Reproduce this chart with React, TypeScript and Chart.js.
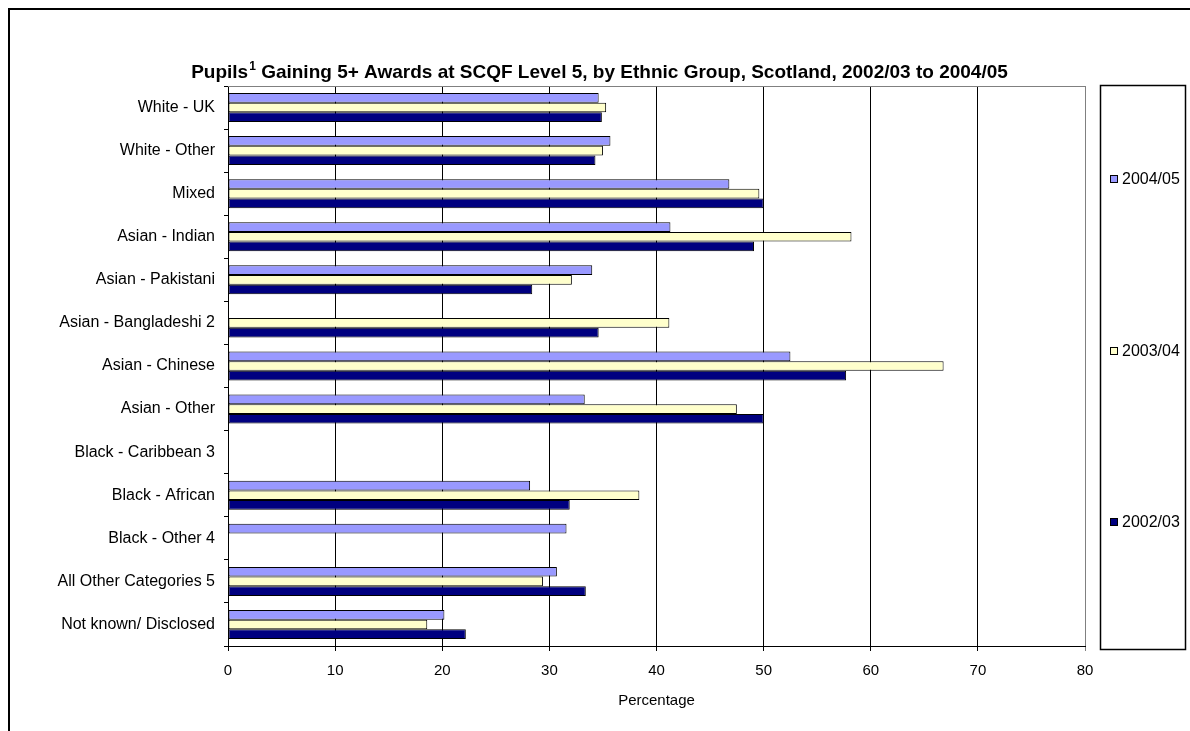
import React, { useEffect, useRef } from "react";
import { Chart, registerables } from "chart.js";

Chart.register(...registerables);

const categories = [
  "White - UK",
  "White - Other",
  "Mixed",
  "Asian - Indian",
  "Asian - Pakistani",
  "Asian - Bangladeshi 2",
  "Asian - Chinese",
  "Asian - Other",
  "Black - Caribbean 3",
  "Black - African",
  "Black - Other 4",
  "All Other Categories 5",
  "Not known/ Disclosed",
];

const seriesLabels = ["2004/05", "2003/04", "2002/03"];
const seriesColors = ["#9999FF", "#FFFFCC", "#000080"];

const values2004 = [34.6, 35.7, 46.8, 41.3, 34.0, null, 52.5, 33.3, null, 28.2, 31.6, 30.7, 20.2];
const values2003 = [35.3, 35.0, 49.6, 58.2, 32.1, 41.2, 66.8, 47.5, null, 38.4, null, 29.4, 18.6];
const values2002 = [34.9, 34.3, 50.0, 49.1, 28.4, 34.6, 57.7, 50.0, null, 31.9, null, 33.4, 22.2];

const xTicks = [0, 10, 20, 30, 40, 50, 60, 70, 80];
const xAxisTitle = "Percentage";
const titleStart = "Pupils";
const titleSup = "1";
const titleEnd = " Gaining 5+ Awards at SCQF Level 5, by Ethnic Group, Scotland, 2002/03 to 2004/05";

const FONT = "Arial, 'Liberation Sans', sans-serif";

export default function App() {
  const canvasRef = useRef<HTMLCanvasElement | null>(null);

  useEffect(() => {
    if (!canvasRef.current) return;

    const titlePlugin = {
      id: "customTitle",
      afterDraw(chart: any) {
        const ctx = chart.ctx;
        ctx.save();
        ctx.fillStyle = "#000";
        ctx.textBaseline = "alphabetic";
        ctx.font = `bold 19px ${FONT}`;
        const w1 = ctx.measureText(titleStart).width;
        const w3 = ctx.measureText(titleEnd).width;
        ctx.font = `bold 12px ${FONT}`;
        const w2 = ctx.measureText(titleSup).width;
        const total = w1 + w2 + w3;
        let x = 589 - total / 2;
        const y = 68;
        ctx.font = `bold 19px ${FONT}`;
        ctx.fillText(titleStart, x, y);
        x += w1;
        ctx.font = `bold 12px ${FONT}`;
        ctx.fillText(titleSup, x + 1, y - 8);
        x += w2 + 1;
        ctx.font = `bold 19px ${FONT}`;
        ctx.fillText(titleEnd, x, y);
        ctx.restore();
      },
    };

    const framePlugin = {
      id: "frameAndLegend",
      afterDraw(chart: any) {
        const ctx = chart.ctx;
        const a = chart.chartArea;
        ctx.save();
        ctx.strokeStyle = "#808080";
        ctx.lineWidth = 1;
        ctx.beginPath();
        ctx.moveTo(a.left, a.top + 0.5);
        ctx.lineTo(a.right, a.top + 0.5);
        ctx.stroke();

        const bx = 1090, by = 75, bw = 85, bh = 564;
        ctx.strokeStyle = "#000";
        ctx.lineWidth = 1.5;
        ctx.strokeRect(bx + 0.5, by + 0.5, bw, bh);
        const fracs = [0.1675, 0.471, 0.775];
        ctx.font = `16px ${FONT}`;
        ctx.textBaseline = "middle";
        ctx.textAlign = "left";
        chart.data.datasets.forEach((ds: any, i: number) => {
          const cy = Math.round(by + bh * fracs[i]);
          ctx.fillStyle = ds.backgroundColor;
          ctx.fillRect(bx + 10.5, cy - 3.5, 7, 7);
          ctx.strokeStyle = "#000";
          ctx.lineWidth = 1;
          ctx.strokeRect(bx + 10.5, cy - 3.5, 7, 7);
          ctx.fillStyle = "#000";
          ctx.fillText(ds.label, bx + 22, cy + 1);
        });
        ctx.restore();
      },
    };

    const chart = new Chart(canvasRef.current, {
      type: "bar",
      data: {
        labels: categories,
        datasets: [values2004, values2003, values2002].map((vals, i) => ({
          label: seriesLabels[i],
          data: vals,
          backgroundColor: seriesColors[i],
          borderColor: "#000000",
          borderWidth: 1,
          borderSkipped: false,
          categoryPercentage: 0.673,
          barPercentage: 1,
        })),
      },
      options: {
        indexAxis: "y",
        animation: false,
        responsive: false,
        maintainAspectRatio: false,
        devicePixelRatio: 1,
        layout: { padding: { left: 0, right: 105, top: 76, bottom: 21 } },
        plugins: {
          legend: { display: false },
          title: { display: false },
          tooltip: { enabled: false },
        },
        scales: {
          x: {
            type: "linear",
            min: 0,
            max: 80,
            afterBuildTicks(scale: any) {
              scale.ticks = xTicks.map((v) => ({ value: v }));
            },
            afterFit(scale: any) {
              scale.height = 64;
            },
            ticks: {
              color: "#000",
              font: { family: FONT, size: 15 },
              padding: 11,
              maxRotation: 0,
            },
            grid: {
              color: (c: any) => (c.tick && c.tick.value === 80 ? "#808080" : "#000000"),
              lineWidth: 1,
              tickLength: 5,
              drawTicks: true,
            },
            border: { display: true, color: "#000", width: 1 },
            title: {
              display: true,
              text: xAxisTitle,
              color: "#000",
              font: { family: FONT, size: 15 },
              padding: { top: 0, bottom: 0 },
            },
          },
          y: {
            type: "category",
            afterFit(scale: any) {
              scale.width = 218;
            },
            ticks: {
              color: "#000",
              font: { family: FONT, size: 16 },
              padding: 9,
              autoSkip: false,
            },
            grid: {
              offset: true,
              drawOnChartArea: false,
              drawTicks: true,
              tickLength: 4,
              color: "#000",
            },
            border: { display: true, color: "#000", width: 1 },
          },
        },
      },
      plugins: [titlePlugin, framePlugin],
    });

    return () => chart.destroy();
  }, []);

  return (
    <div
      style={{
        position: "fixed",
        left: 8,
        top: 8,
        width: 1182,
        height: 723,
        boxSizing: "border-box",
        borderLeft: "2px solid #000",
        borderTop: "2px solid #000",
        background: "#fff",
      }}
    >
      <canvas ref={canvasRef} width={1180} height={721} style={{ display: "block", width: 1180, height: 721 }} />
    </div>
  );
}
